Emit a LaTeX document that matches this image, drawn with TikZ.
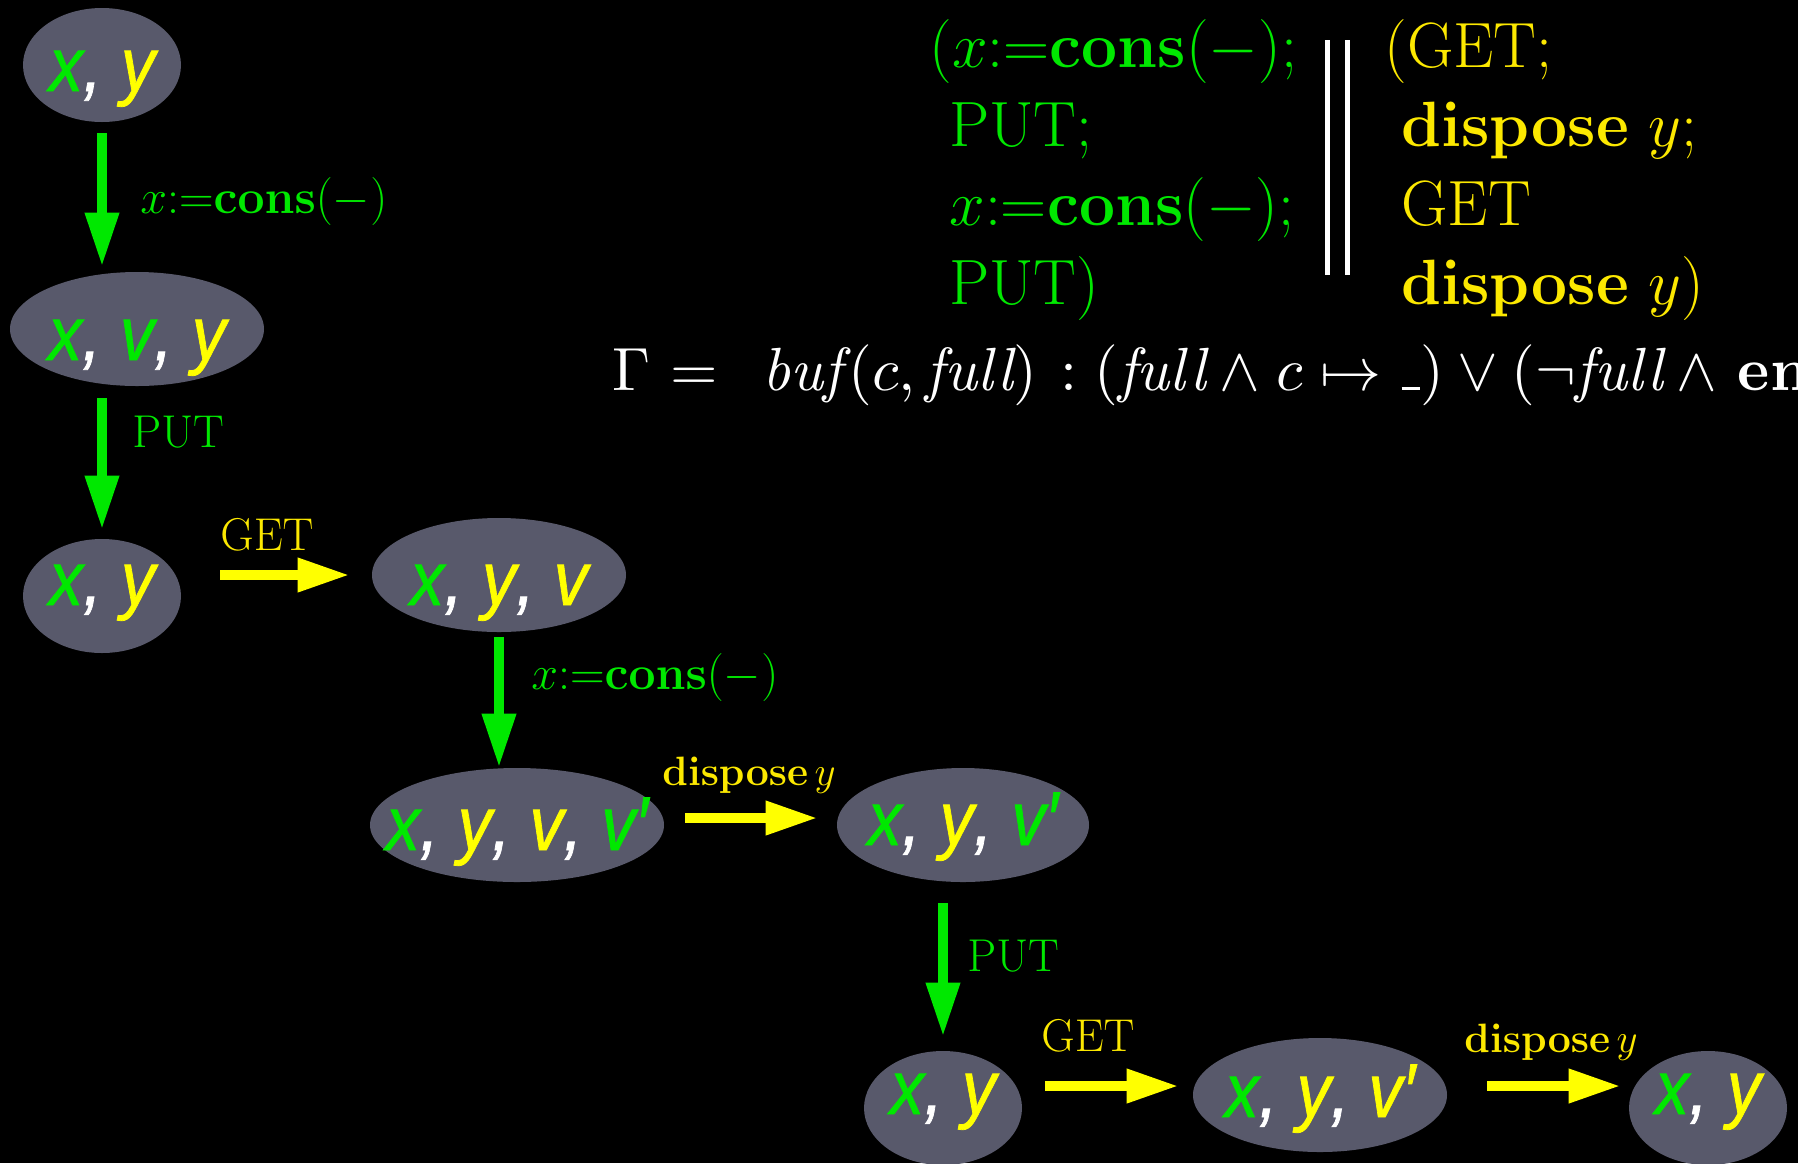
\RequirePackage{fix-cm}
\documentclass[tikz,border=0pt]{standalone}
\usepackage{graphicx}
\usepackage[no-math]{fontspec}
\newfontfamily\nodefont[FakeBold=1]{Liberation Sans}
\newcommand{\cmrm}{\fontencoding{OT1}\fontfamily{cmr}\selectfont}
\newcommand{\bxs}[1]{{\fontseries{bx}\selectfont #1}}
\usetikzlibrary{arrows.meta,shapes.geometric}
\definecolor{grn}{RGB}{0,232,0}
\definecolor{yel}{RGB}{255,255,0}
\definecolor{ytxt}{RGB}{252,232,0}
\definecolor{nodefill}{RGB}{88,89,107}
\newcommand{\colG}[1]{\textcolor{grn}{#1}}
\newcommand{\colY}[1]{\textcolor{yel}{#1}}
\newcommand{\colW}[1]{\textcolor{white}{#1}}
\newcommand{\nt}[2]{\raisebox{-#1}[0pt][0pt]{\makebox[0pt]{\scalebox{1}[1.12]{\fontsize{34}{40}\selectfont\nodefont\itshape #2}}}}
\newcommand{\cm}{\colW{, }}
\newcommand{\uscore}{\mathord{\kern.06em\vbox{\hrule width.3em height 0.5pt}}}
\begin{document}
\begin{tikzpicture}[x=0.5pt,y=-0.5pt,
  st/.style={ellipse, fill=nodefill, inner sep=0pt, minimum width=#1, minimum height=57pt},
  garrow/.style={draw=grn, line width=5pt, -{Triangle[width=16pt,length=27pt]}},
  yarrow/.style={draw=yel, line width=5pt, -{Triangle[width=16pt,length=26pt]}},
  lab/.style={inner sep=0pt, font=\fontsize{23}{28}\cmrm},
  mlab/.style={inner sep=0pt, font=\fontsize{24}{28}\cmrm},
  dlab/.style={inner sep=0pt, font=\fontsize{20.5}{24}\cmrm, text=ytxt},
  prog/.style={inner sep=0pt, anchor=base west, font=\fontsize{32}{38}\cmrm}]
\useasboundingbox (0,0) rectangle (1798,1163);
\fill[black] (0,0) rectangle (1798,1163);
\clip (0,0) rectangle (1798,1163);

% state nodes
\node[st=79pt] (n1) at (102,65) {\nt{13pt}{\colG{x}\cm\colY{y}}};
\node[st=127pt] (n2) at (137,329) {\nt{15.5pt}{\colG{x}\cm\colG{v}\cm\colY{y}}};
\node[st=79pt] (n3) at (102,596) {\nt{4.5pt}{\colG{x}\cm\colY{y}}};
\node[st=127pt] (n4) at (499,575) {\nt{15pt}{\colG{x}\cm\colY{y}\cm\colY{v}}};
\node[st=147pt] (n5) at (517,825) {\nt{12.5pt}{\colG{x}\cm\colY{y}\cm\colY{v}\cm\colG{v′}}};
\node[st=126pt] (n6) at (963,825) {\nt{10pt}{\colG{x}\cm\colY{y}\cm\colG{v′}}};
\node[st=79pt] (n7) at (943,1108) {\nt{3pt}{\colG{x}\cm\colY{y}}};
\node[st=127pt] (n8) at (1320,1095) {\nt{11pt}{\colG{x}\cm\colY{y}\cm\colY{v′}}};
\node[st=79pt] (n9) at (1708,1108) {\nt{3pt}{\colG{x}\cm\colY{y}}};

% arrows
\draw[garrow, shorten <=5.5pt, shorten >=2.5pt] (n1.south) -- (n1.south |- n2.north);
\draw[garrow, shorten <=6pt, shorten >=4.5pt] (n3.north |- n2.south) -- (n3.north);
\draw[yarrow, shorten <=19.5pt, shorten >=11pt] (n3.east |- n4.west) -- (n4.west);
\draw[garrow, shorten <=2.5pt] (n4.south) -- (n4.south |- n5.north);
\draw[yarrow, shorten <=10.5pt, shorten >=9.5pt] ([yshift=3.5pt]n5.east) -- ([yshift=3.5pt]n6.west);
\draw[garrow, shorten <=10.5pt, shorten >=7pt] (n7.north |- n6.south) -- (n7.north);
\draw[yarrow, shorten <=11.5pt, shorten >=7pt] ([yshift=4.5pt]n7.east |- n8.west) -- ([yshift=4.5pt]n8.west);
\draw[yarrow, shorten <=20pt, shorten >=4pt] ([yshift=4.5pt]n8.east) -- ([yshift=4.5pt]n8.east -| n9.west);

% edge labels
\node[mlab, anchor=west, text=grn] (l1) at (140,201) {$x{:}{=}\mathbf{cons}(-)$};
\node[lab, anchor=base west, text=grn] (l2) at (132,447) {PUT};
\node[lab, anchor=base west, text=ytxt] (l3) at (220,550) {GET};
\node[mlab, anchor=west, text=grn] (l4) at (531,677) {$x{:}{=}\mathbf{cons}(-)$};
\node[dlab, anchor=base west] (l5) at (662,785) {\bxs{dispose}\,$y$};
\node[lab, anchor=base west, text=grn] (l6) at (967,971) {PUT};
\node[lab, anchor=base west, text=ytxt] (l7) at (1041,1051) {GET};
\node[dlab, anchor=base west] (l8) at (1464,1052) {\bxs{dispose}\,$y$};

% program
\node[prog, text=grn] (p1) at (929,67) {$(x{:}{=}\mathbf{cons}(-);$};
\node[prog, text=grn] (p2) at (949,146) {PUT;};
\node[prog, text=grn] (p3) at (949,225) {$x{:}{=}\mathbf{cons}(-);$};
\node[prog, text=grn] (p4) at (949,304) {PUT)};
\node[prog, text=ytxt] (q1) at (1384,67) {(GET;};
\node[prog, text=ytxt] (q2) at (1401,146) {\bxs{dispose} $y$;};
\node[prog, text=ytxt] (q3) at (1401,225) {GET};
\node[prog, text=ytxt] (q4) at (1401,304) {\bxs{dispose} $y$)};
\draw[white, line width=2.5pt] (1327,40) -- (1327,275);
\draw[white, line width=2.5pt] (1347,40) -- (1347,275);

% invariant
\node[inner sep=0pt, anchor=base west, text=white, scale=3.05, font=\fontsize{10}{12}\selectfont] (gam) at (611,390)
  {$\Gamma\mkern1mu=\mkern8mu\mbox{\itshape buf}\mkern2mu(c,\mbox{\itshape full})\mkern2mu : (\mbox{\itshape full}\wedge\mkern1mu c\mapsto \uscore)\vee(\neg\mbox{\itshape full}\wedge\mkern2mu\mbox{\bfseries emp})$};
\end{tikzpicture}
\end{document}
